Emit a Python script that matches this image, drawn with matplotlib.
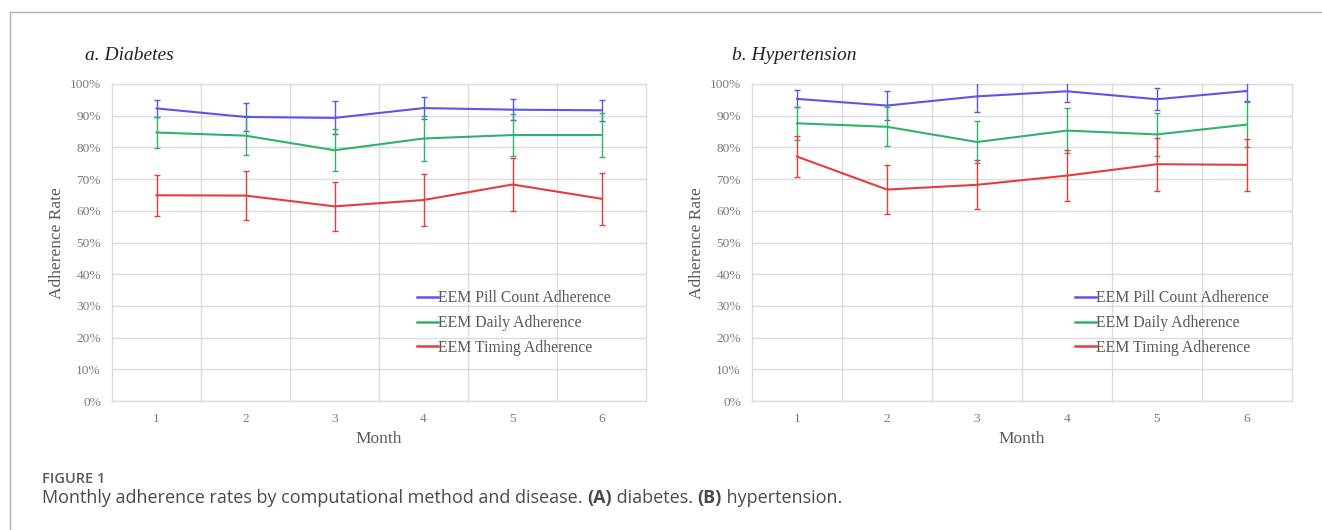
import matplotlib
matplotlib.use("Agg")
import matplotlib.pyplot as plt
from matplotlib.lines import Line2D

# ---------------- data ----------------
months = [1, 2, 3, 4, 5, 6]
series_names = ["EEM Pill Count Adherence", "EEM Daily Adherence", "EEM Timing Adherence"]

diab_pill = [92.3, 89.6, 89.3, 92.4, 91.9, 91.7]
diab_pill_err = [2.6, 4.4, 5.2, 3.4, 3.4, 3.3]
diab_daily = [84.7, 83.7, 79.1, 82.8, 83.9, 83.9]
diab_daily_err = [5.0, 6.2, 6.6, 7.0, 6.7, 6.8]
diab_timing = [64.9, 64.8, 61.4, 63.4, 68.3, 63.8]
diab_timing_err = [6.4, 7.6, 7.8, 8.2, 8.5, 8.2]

hyp_pill = [95.3, 93.2, 96.1, 97.7, 95.2, 97.8]
hyp_pill_err = [2.7, 4.6, 5.0, 3.3, 3.4, 3.3]
hyp_daily = [87.6, 86.5, 81.7, 85.3, 84.1, 87.2]
hyp_daily_err = [5.2, 6.2, 6.5, 7.0, 6.7, 7.1]
hyp_timing = [77.1, 66.7, 68.2, 71.1, 74.7, 74.5]
hyp_timing_err = [6.5, 7.6, 7.7, 8.0, 8.4, 8.2]

yticks = [0, 10, 20, 30, 40, 50, 60, 70, 80, 90, 100]
ytick_labels = [f"{v}%" for v in yticks]

panel_titles = ["a. Diabetes", "b. Hypertension"]
caption_title = "FIGURE 1"
caption_pieces = [
    ("Monthly adherence rates by computational method and disease. ", "normal"),
    ("(A)", "bold"),
    (" diabetes. ", "normal"),
    ("(B)", "bold"),
    (" hypertension.", "normal"),
]

# ---------------- style ----------------
W, H = 1322, 530
colors = ["#5a55ec", "#2fb36a", "#e83b3b"]
grid_c = "#dcdcdc"
tick_c = "#7a7a7a"
lab_c = "#595959"
serif = "Liberation Serif"

fig = plt.figure(figsize=(W / 100, H / 100), dpi=100)
fig.patch.set_facecolor("white")

def fx(px):
    return px / W

def fy(py):
    return 1 - py / H

# outer frame (top and left)
fig.add_artist(Line2D([fx(10), 1.0], [fy(12), fy(12)], transform=fig.transFigure, color="#b0b0b0", lw=1.0))
fig.add_artist(Line2D([fx(10), fx(10)], [fy(12), 0.0], transform=fig.transFigure, color="#b0b0b0", lw=1.0))

panels = [
    dict(x0=112, w=534, title_x=85, ylab_x=57, leg_x=417,
         data=[(diab_pill, diab_pill_err), (diab_daily, diab_daily_err), (diab_timing, diab_timing_err)]),
    dict(x0=752, w=540, title_x=732, ylab_x=697, leg_x=1075,
         data=[(hyp_pill, hyp_pill_err), (hyp_daily, hyp_daily_err), (hyp_timing, hyp_timing_err)]),
]

top_px, bot_px = 84, 401
for i, p in enumerate(panels):
    ax = fig.add_axes([fx(p["x0"]), fy(bot_px), p["w"] / W, (bot_px - top_px) / H])
    xpos = list(range(len(months)))
    for (vals, errs), c in zip(p["data"], colors):
        ax.errorbar(xpos, vals, yerr=errs, color=c, lw=1.5, elinewidth=1.0,
                    capsize=2.2, capthick=1.0, zorder=3)
    ax.set_xlim(-0.5, len(months) - 0.5)
    ax.set_ylim(0, 100)
    ax.set_yticks(yticks)
    ax.set_yticklabels(ytick_labels, family=serif, fontsize=9.6, color=tick_c)
    ax.set_xticks(xpos)
    ax.set_xticklabels([str(m) for m in months], family=serif, fontsize=9.6, color=tick_c)
    ax.set_xticks([k + 0.5 for k in xpos[:-1]], minor=True)
    ax.tick_params(axis="y", length=0, pad=8)
    ax.tick_params(axis="x", which="both", length=0, pad=9)
    ax.grid(True, axis="y", which="major", color=grid_c, lw=1.0)
    ax.grid(True, axis="x", which="minor", color=grid_c, lw=1.0)
    ax.set_axisbelow(True)
    for s in ax.spines.values():
        s.set_color(grid_c)
        s.set_linewidth(1.0)

    fig.text(fx(p["title_x"]), fy(55), panel_titles[i], family=serif, style="italic",
             fontsize=14, color="#222222", ha="left", va="center")
    fig.text(fx(p["ylab_x"]), fy(243), "Adherence Rate", family=serif, fontsize=12.5,
             color=lab_c, rotation=90, ha="center", va="center")
    fig.text(fx(p["x0"] + p["w"] / 2), fy(439), "Month", family=serif, fontsize=12.5,
             color=lab_c, ha="center", va="center")

    handles = [Line2D([], [], color=c, lw=1.8) for c in colors]
    leg = ax.legend(handles, series_names, loc="center left",
                    bbox_to_anchor=(fx(p["leg_x"]), fy(323)), bbox_transform=fig.transFigure,
                    frameon=False, prop=dict(family=serif, size=11.3), handlelength=1.35,
                    handletextpad=0.0, labelspacing=0.55, borderpad=0, borderaxespad=0)
    for t in leg.get_texts():
        t.set_color(lab_c)

# caption
fig.text(fx(42), fy(479), caption_title, family="Open Sans", weight="semibold",
         fontsize=10.5, color="#5a5a5a", ha="left", va="center")

renderer = fig.canvas.get_renderer()

def adv(s, weight, size):
    t1 = fig.text(0, 0, s + "X", family="Open Sans", weight=weight, fontsize=size)
    t2 = fig.text(0, 0, "X", family="Open Sans", weight=weight, fontsize=size)
    w = t1.get_window_extent(renderer).width - t2.get_window_extent(renderer).width
    t1.remove(); t2.remove()
    return w

cap_size = 13.0
xcur = 42.0
for s, wgt in caption_pieces:
    fig.text(fx(xcur), fy(498), s, family="Open Sans", weight=wgt, fontsize=cap_size,
             color="#4a4a4a", ha="left", va="center")
    xcur += adv(s, wgt, cap_size)

fig.savefig("out.png", dpi=100, facecolor="white")
